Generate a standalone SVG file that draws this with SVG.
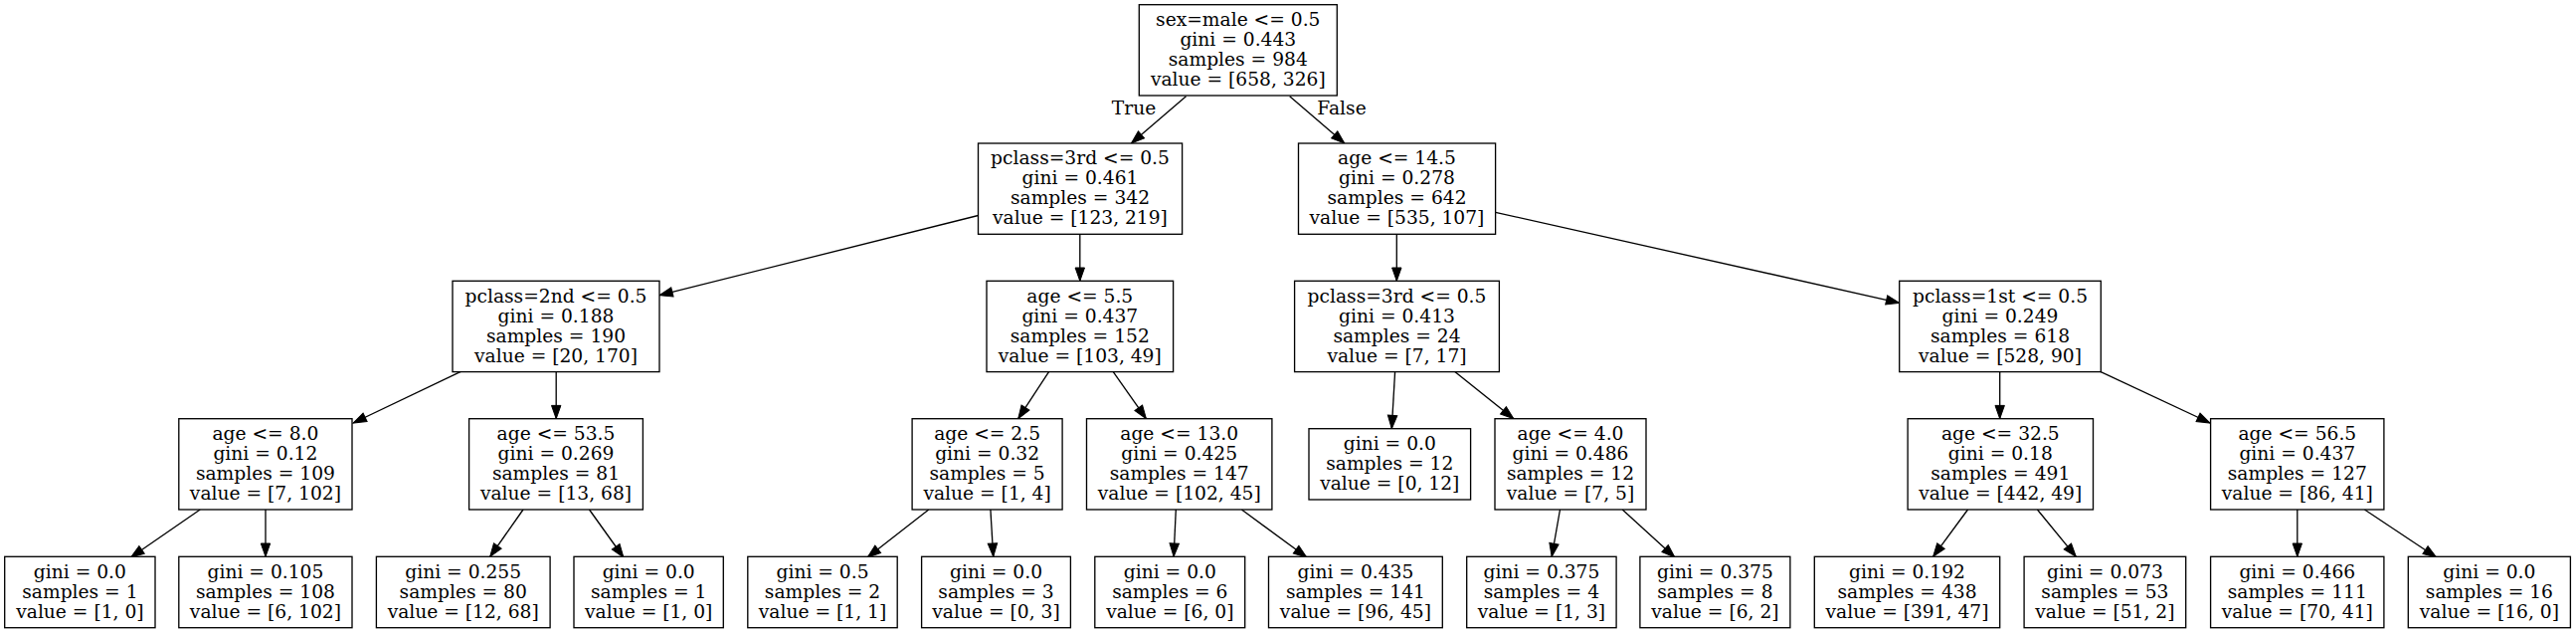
<svg xmlns="http://www.w3.org/2000/svg" width="2590" height="636" viewBox="0 0 2590 636">
<style>
.n rect{fill:#fff;stroke:#000;stroke-width:1.33}
text{font-family:"DejaVu Serif","Liberation Serif",serif;font-size:18.67px;fill:#000;text-anchor:middle}
.e path{fill:none;stroke:#000;stroke-width:1.33;marker-end:url(#ah)}
</style>
<defs>
<marker id="ah" markerUnits="userSpaceOnUse" markerWidth="14" markerHeight="10" refX="13.3" refY="4.7" orient="auto" overflow="visible">
<path d="M0,0 L13.3,4.7 L0,9.4 Z" fill="#000" stroke="#000" stroke-width="1"/>
</marker>
</defs>
<rect x="0" y="0" width="2590" height="636" fill="#fff"/>
<g class="e" id="edges">
<path d="M1192.5,96.7 L1137.4,144"/>
<path d="M1296.7,96.7 L1351.8,144"/>
<path d="M983.5,216.5 L663,296.7"/>
<path d="M1085.8,235 L1085.8,282.3"/>
<path d="M463.3,373.3 L355.1,425"/>
<path d="M559.2,373.3 L559.2,420.7"/>
<path d="M201.2,512 L131.6,560"/>
<path d="M267,512 L267,559.3"/>
<path d="M526,512 L492.7,559.3"/>
<path d="M592.5,512 L626.9,560"/>
<path d="M1054.7,373.3 L1023.7,420.7"/>
<path d="M1119.1,373.3 L1152.4,420.7"/>
<path d="M933.8,512 L872.2,560"/>
<path d="M995.9,512 L998.7,559.3"/>
<path d="M1182.3,512 L1180.1,559.3"/>
<path d="M1248.4,512 L1313.8,560"/>
<path d="M1404.3,235 L1404.3,282.3"/>
<path d="M1503.6,213.3 L1909.7,304.3"/>
<path d="M1402.6,373.3 L1399.3,430.7"/>
<path d="M1462.5,373.3 L1521.9,420.7"/>
<path d="M1568.5,512 L1560.2,559.3"/>
<path d="M1631.2,512 L1683.9,560"/>
<path d="M2010.7,373.3 L2010.7,420.7"/>
<path d="M2111.7,373.3 L2222.1,425"/>
<path d="M1978.5,512 L1943.6,559.3"/>
<path d="M2048.4,512 L2087.3,559.3"/>
<path d="M2309.8,512 L2309.8,559.3"/>
<path d="M2377.4,512 L2449.6,560"/>
</g>
<g id="edge-labels">
<text x="1140" y="115">True</text>
<text x="1349" y="115">False</text>
</g>
<g class="n" id="n0"><rect x="1145.3" y="4.7" width="199" height="91.3"/><text x="1244.8" y="26">sex=male &lt;= 0.5<tspan x="1244.8" y="46">gini = 0.443</tspan><tspan x="1244.8" y="66">samples = 984</tspan><tspan x="1244.8" y="86">value = [658, 326]</tspan></text></g>
<g class="n" id="n1"><rect x="983.5" y="144" width="205.1" height="91.3"/><text x="1086" y="165.3">pclass=3rd &lt;= 0.5<tspan x="1086" y="185.3">gini = 0.461</tspan><tspan x="1086" y="205.3">samples = 342</tspan><tspan x="1086" y="225.3">value = [123, 219]</tspan></text></g>
<g class="n" id="n16"><rect x="1305.5" y="144" width="198.1" height="91.3"/><text x="1404.5" y="165.3">age &lt;= 14.5<tspan x="1404.5" y="185.3">gini = 0.278</tspan><tspan x="1404.5" y="205.3">samples = 642</tspan><tspan x="1404.5" y="225.3">value = [535, 107]</tspan></text></g>
<g class="n" id="n2"><rect x="455" y="282.3" width="208" height="91.3"/><text x="559" y="303.6">pclass=2nd &lt;= 0.5<tspan x="559" y="323.6">gini = 0.188</tspan><tspan x="559" y="343.6">samples = 190</tspan><tspan x="559" y="363.6">value = [20, 170]</tspan></text></g>
<g class="n" id="n9"><rect x="992" y="282.3" width="187.6" height="91.3"/><text x="1085.8" y="303.6">age &lt;= 5.5<tspan x="1085.8" y="323.6">gini = 0.437</tspan><tspan x="1085.8" y="343.6">samples = 152</tspan><tspan x="1085.8" y="363.6">value = [103, 49]</tspan></text></g>
<g class="n" id="n17"><rect x="1301.6" y="282.3" width="205.8" height="91.3"/><text x="1404.5" y="303.6">pclass=3rd &lt;= 0.5<tspan x="1404.5" y="323.6">gini = 0.413</tspan><tspan x="1404.5" y="343.6">samples = 24</tspan><tspan x="1404.5" y="363.6">value = [7, 17]</tspan></text></g>
<g class="n" id="n22"><rect x="1909.7" y="282.3" width="202.6" height="91.3"/><text x="2011" y="303.6">pclass=1st &lt;= 0.5<tspan x="2011" y="323.6">gini = 0.249</tspan><tspan x="2011" y="343.6">samples = 618</tspan><tspan x="2011" y="363.6">value = [528, 90]</tspan></text></g>
<g class="n" id="n3"><rect x="179.8" y="420.7" width="174.2" height="91.3"/><text x="266.9" y="442">age &lt;= 8.0<tspan x="266.9" y="462">gini = 0.12</tspan><tspan x="266.9" y="482">samples = 109</tspan><tspan x="266.9" y="502">value = [7, 102]</tspan></text></g>
<g class="n" id="n6"><rect x="471.6" y="420.7" width="174.8" height="91.3"/><text x="559" y="442">age &lt;= 53.5<tspan x="559" y="462">gini = 0.269</tspan><tspan x="559" y="482">samples = 81</tspan><tspan x="559" y="502">value = [13, 68]</tspan></text></g>
<g class="n" id="n10"><rect x="917.1" y="420.7" width="151" height="91.3"/><text x="992.6" y="442">age &lt;= 2.5<tspan x="992.6" y="462">gini = 0.32</tspan><tspan x="992.6" y="482">samples = 5</tspan><tspan x="992.6" y="502">value = [1, 4]</tspan></text></g>
<g class="n" id="n13"><rect x="1092.5" y="420.7" width="186.4" height="91.3"/><text x="1185.7" y="442">age &lt;= 13.0<tspan x="1185.7" y="462">gini = 0.425</tspan><tspan x="1185.7" y="482">samples = 147</tspan><tspan x="1185.7" y="502">value = [102, 45]</tspan></text></g>
<g class="n" id="n18"><rect x="1316" y="430.7" width="162.6" height="71.3"/><text x="1397.3" y="452">gini = 0.0<tspan x="1397.3" y="472">samples = 12</tspan><tspan x="1397.3" y="492">value = [0, 12]</tspan></text></g>
<g class="n" id="n19"><rect x="1503" y="420.7" width="152" height="91.3"/><text x="1579" y="442">age &lt;= 4.0<tspan x="1579" y="462">gini = 0.486</tspan><tspan x="1579" y="482">samples = 12</tspan><tspan x="1579" y="502">value = [7, 5]</tspan></text></g>
<g class="n" id="n23"><rect x="1918.1" y="420.7" width="186.4" height="91.3"/><text x="2011.3" y="442">age &lt;= 32.5<tspan x="2011.3" y="462">gini = 0.18</tspan><tspan x="2011.3" y="482">samples = 491</tspan><tspan x="2011.3" y="502">value = [442, 49]</tspan></text></g>
<g class="n" id="n26"><rect x="2222.6" y="420.7" width="174.3" height="91.3"/><text x="2309.8" y="442">age &lt;= 56.5<tspan x="2309.8" y="462">gini = 0.437</tspan><tspan x="2309.8" y="482">samples = 127</tspan><tspan x="2309.8" y="502">value = [86, 41]</tspan></text></g>
<g class="n" id="n4"><rect x="4.7" y="559.3" width="151.3" height="71.4"/><text x="80.4" y="580.7">gini = 0.0<tspan x="80.4" y="600.7">samples = 1</tspan><tspan x="80.4" y="620.7">value = [1, 0]</tspan></text></g>
<g class="n" id="n5"><rect x="179.8" y="559.3" width="174.2" height="71.4"/><text x="266.9" y="580.7">gini = 0.105<tspan x="266.9" y="600.7">samples = 108</tspan><tspan x="266.9" y="620.7">value = [6, 102]</tspan></text></g>
<g class="n" id="n7"><rect x="378.4" y="559.3" width="174.7" height="71.4"/><text x="465.7" y="580.7">gini = 0.255<tspan x="465.7" y="600.7">samples = 80</tspan><tspan x="465.7" y="620.7">value = [12, 68]</tspan></text></g>
<g class="n" id="n8"><rect x="577" y="559.3" width="150.3" height="71.4"/><text x="652.2" y="580.7">gini = 0.0<tspan x="652.2" y="600.7">samples = 1</tspan><tspan x="652.2" y="620.7">value = [1, 0]</tspan></text></g>
<g class="n" id="n11"><rect x="751.8" y="559.3" width="150.4" height="71.4"/><text x="827" y="580.7">gini = 0.5<tspan x="827" y="600.7">samples = 2</tspan><tspan x="827" y="620.7">value = [1, 1]</tspan></text></g>
<g class="n" id="n12"><rect x="926.6" y="559.3" width="149.8" height="71.4"/><text x="1001.5" y="580.7">gini = 0.0<tspan x="1001.5" y="600.7">samples = 3</tspan><tspan x="1001.5" y="620.7">value = [0, 3]</tspan></text></g>
<g class="n" id="n14"><rect x="1100.8" y="559.3" width="150.9" height="71.4"/><text x="1176.3" y="580.7">gini = 0.0<tspan x="1176.3" y="600.7">samples = 6</tspan><tspan x="1176.3" y="620.7">value = [6, 0]</tspan></text></g>
<g class="n" id="n15"><rect x="1275.5" y="559.3" width="174.8" height="71.4"/><text x="1362.9" y="580.7">gini = 0.435<tspan x="1362.9" y="600.7">samples = 141</tspan><tspan x="1362.9" y="620.7">value = [96, 45]</tspan></text></g>
<g class="n" id="n20"><rect x="1474.7" y="559.3" width="150.4" height="71.4"/><text x="1549.9" y="580.7">gini = 0.375<tspan x="1549.9" y="600.7">samples = 4</tspan><tspan x="1549.9" y="620.7">value = [1, 3]</tspan></text></g>
<g class="n" id="n21"><rect x="1648.9" y="559.3" width="151" height="71.4"/><text x="1724.4" y="580.7">gini = 0.375<tspan x="1724.4" y="600.7">samples = 8</tspan><tspan x="1724.4" y="620.7">value = [6, 2]</tspan></text></g>
<g class="n" id="n24"><rect x="1824.3" y="559.3" width="186.4" height="71.4"/><text x="1917.5" y="580.7">gini = 0.192<tspan x="1917.5" y="600.7">samples = 438</tspan><tspan x="1917.5" y="620.7">value = [391, 47]</tspan></text></g>
<g class="n" id="n25"><rect x="2035.1" y="559.3" width="162.6" height="71.4"/><text x="2116.4" y="580.7">gini = 0.073<tspan x="2116.4" y="600.7">samples = 53</tspan><tspan x="2116.4" y="620.7">value = [51, 2]</tspan></text></g>
<g class="n" id="n27"><rect x="2222.6" y="559.3" width="174.3" height="71.4"/><text x="2309.8" y="580.7">gini = 0.466<tspan x="2309.8" y="600.7">samples = 111</tspan><tspan x="2309.8" y="620.7">value = [70, 41]</tspan></text></g>
<g class="n" id="n28"><rect x="2421.3" y="559.3" width="163.1" height="71.4"/><text x="2502.9" y="580.7">gini = 0.0<tspan x="2502.9" y="600.7">samples = 16</tspan><tspan x="2502.9" y="620.7">value = [16, 0]</tspan></text></g>
</svg>
